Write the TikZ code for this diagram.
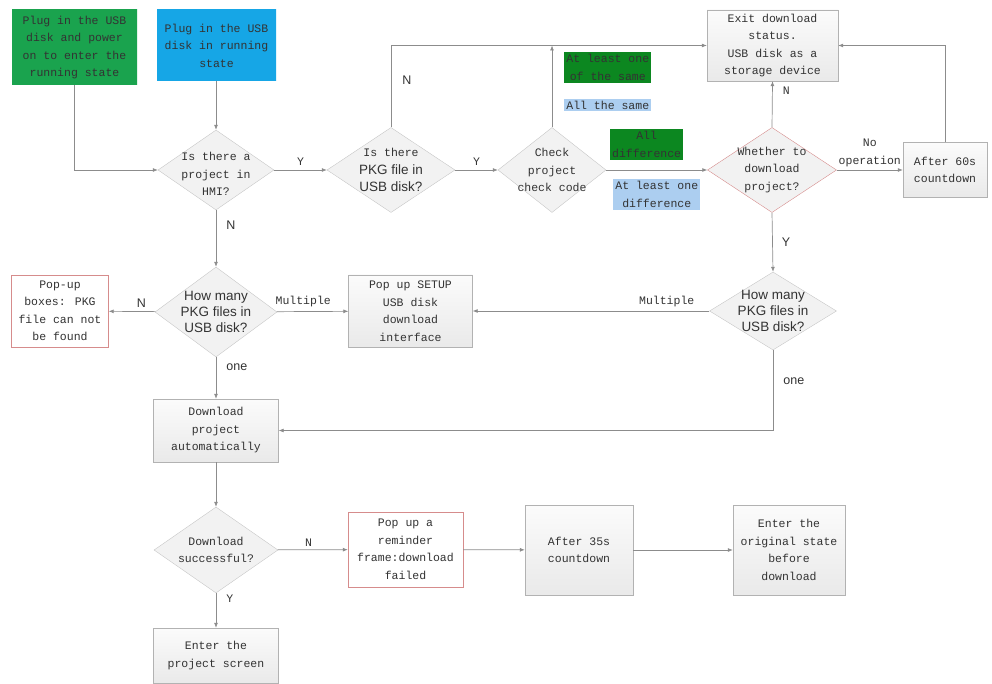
\documentclass[tikz,border=0pt]{standalone}
\usepackage{fontspec}
\setmainfont{Liberation Mono}
\newfontfamily\sansf{Liberation Sans}
\usetikzlibrary{arrows.meta,positioning,shapes.geometric}
\definecolor{startgreen}{RGB}{26,163,78}
\definecolor{startblue}{RGB}{22,166,230}
\definecolor{hlgreen}{RGB}{12,135,32}
\definecolor{hlblue}{RGB}{172,206,240}
\definecolor{warnred}{RGB}{214,140,140}
\definecolor{flowline}{RGB}{140,140,140}
\tikzset {
    boxtext/.style={font=\fontsize{11.5}{17.5}\selectfont, text=black!80},
    box/.style={draw=gray!60, top color=gray!3, bottom color=gray!17,
        align=center, inner sep=2pt, boxtext},
    warnbox/.style={box, draw=warnred, top color=white, bottom color=white},
    startbox/.style={box, draw=none, top color=#1, bottom color=#1},
    decision/.style={draw=gray!45, fill=gray!10, diamond, inner sep=0pt},
    dtext/.style={align=center, inner sep=0pt, boxtext},
    dsans/.style={align=center, inner sep=0pt, text=black!80,
        font=\sansf\fontsize{13.5}{16}\selectfont},
    lbl/.style={font=\fontsize{11.5}{18}\selectfont, inner sep=1pt, text=black!80},
    slbl/.style={font=\sansf\fontsize{12.5}{14}\selectfont, inner sep=1pt, text=black!80},
    hl/.style={lbl, align=center, fill=#1, inner sep=2pt},
    flow/.style={draw=flowline, line width=0.7pt},
    >={Latex[length=5pt,width=4pt]}
}

\begin{document}
\begin{tikzpicture}[x=1pt, y=-1pt]
    \useasboundingbox (0,0) rectangle (992,684);

    % top row
    \node[startbox=startgreen, minimum width=125, minimum height=75] (start1) at (74.5,47.5)
        {Plug in the USB\\disk and power\\on to enter the\\running state};
    \node[startbox=startblue, minimum width=119, minimum height=71] (start2) at (216.5,45.5)
        {Plug in the USB\\disk in running\\state};
    \node[box, minimum width=131, minimum height=71] (exit) at (772.5,45.5)
        {Exit download\\status.\\USB disk as a\\storage device};

    % decisions of the first row
    \node[decision, minimum width=116, minimum height=80,
        label={[dtext, yshift=-4pt]center:Is there a\\project in\\HMI?}] (hmi) at (216,170) {};
    \node[decision, minimum width=128, minimum height=85,
        label={[dtext]center:Is there\\{\sansf\fontsize{13.5}{16}\selectfont PKG file in}\\{\sansf\fontsize{13.5}{16}\selectfont USB disk?}}] (pkgfile) at (391,170) {};
    \node[decision, minimum width=108, minimum height=85,
        label={[dtext]center:Check\\project\\check code}] (check) at (552,170) {};
    \node[decision, draw=warnred, minimum width=129, minimum height=85,
        label={[dtext]center:Whether to\\download\\project?}] (ask) at (772,170) {};
    \node[box, minimum width=84, minimum height=55] (wait60) at (945,170)
        {After 60s\\countdown};

    % second row
    \node[warnbox, minimum width=97, minimum height=72] (nofile) at (60,311)
        {Pop-up\\boxes: PKG\\file can not\\be found};
    \node[decision, minimum width=122, minimum height=90,
        label={[dsans]center:How many\\PKG files in\\USB disk?}] (many1) at (216,312) {};
    \node[box, minimum width=124, minimum height=72] (setup) at (410.5,311)
        {Pop up SETUP\\USB disk\\download\\interface};
    \node[decision, minimum width=127, minimum height=78,
        label={[dsans]center:How many\\PKG files in\\USB disk?}] (many2) at (773,311) {};

    % download part
    \node[box, minimum width=125, minimum height=63] (auto) at (216,430.5)
        {Download\\project\\automatically};
    \node[decision, minimum width=124, minimum height=86,
        label={[dtext]center:Download\\successful?}] (ok) at (216,550) {};
    \node[warnbox, minimum width=115, minimum height=75] (failed) at (405.5,549.5)
        {Pop up a\\reminder\\frame:download\\failed};
    \node[box, minimum width=108, minimum height=90] (wait35) at (579,550)
        {After 35s\\countdown};
    \node[box, minimum width=112, minimum height=90] (restore) at (789,550)
        {Enter the\\original state\\before\\download};
    \node[box, minimum width=125, minimum height=55] (screen) at (216,655.5)
        {Enter the\\project screen};

    % connectors
    \draw[flow, ->] (start1.south) |- (hmi.west);
    \draw[flow, ->] (start2.south -| hmi.north) -- (hmi.north);
    \draw[flow, ->] (hmi) -- node[lbl, above=3pt] {Y} (pkgfile);
    \draw[flow, ->] (pkgfile.north) |- node[slbl, pos=0.29, right=10pt] {N} (exit.west);
    \draw[flow, ->] (pkgfile) -- node[lbl, above=3pt] {Y} (check);
    \draw[flow, ->] (check.north) -- (check.north |- exit.west)
        node[hl=hlgreen, pos=0.73, right=12pt] {At least one\\of the same}
        node[hl=hlblue, pos=0.27, right=12pt] {All the same};
    \draw[flow, ->] (check) -- node[hl=hlgreen, pos=0.4, above=10pt] {All\\difference}
        node[hl=hlblue, pos=0.5, below=9pt] {At least one\\difference} (ask);
    \draw[flow, ->] (ask.north) -- node[lbl, pos=0.8, right=9pt] {N} (exit.south);
    \draw[flow, ->] (ask) -- node[lbl, align=center, above=2pt] {No\\operation} (wait60);
    \draw[flow, ->] (wait60.north) |- (exit.east);
    \draw[flow, ->] (ask.south) -- node[slbl, right=8pt] {Y} (many2.north);
    \draw[flow, ->] (many2) -- node[lbl, pos=0.18, above=3pt] {Multiple} (setup);
    \draw[flow, ->] (many2.south) |- node[slbl, pos=0.19, right=9pt] {one} (auto.east);
    \draw[flow, ->] (hmi) -- node[slbl, pos=0.27, right=9pt] {N} (many1);
    \draw[flow, ->] (many1) -- node[slbl, pos=0.3, above=3pt] {N} (nofile);
    \draw[flow, ->] (many1) -- node[lbl, pos=0.37, above=3pt] {Multiple} (setup);
    \draw[flow, ->] (many1) -- node[slbl, pos=0.24, right=9pt] {one} (auto);
    \draw[flow, ->] (auto) -- (ok);
    \draw[flow, ->] (ok) -- node[lbl, pos=0.44, above=2pt] {N} (failed);
    \draw[flow, ->] (ok) -- node[lbl, pos=0.15, right=9pt] {Y} (screen);
    \draw[flow, ->] (failed) -- (wait35);
    \draw[flow, ->] (wait35) -- (restore);

\end{tikzpicture}
\end{document}
